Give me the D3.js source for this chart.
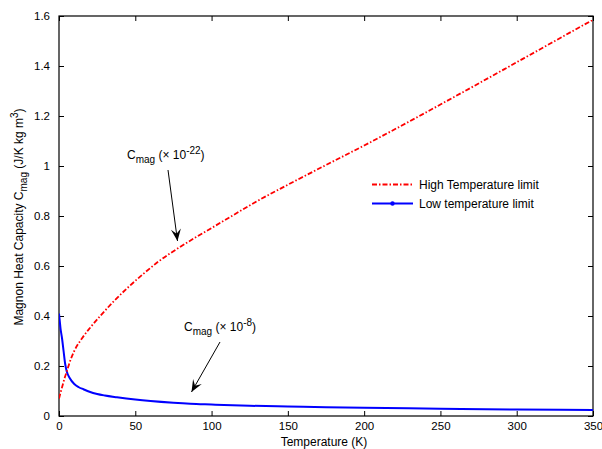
<!DOCTYPE html>
<html><head><meta charset="utf-8">
<script src="https://cdn.jsdelivr.net/npm/d3@7"></script>
<style>
body{margin:0;background:#fff;}
text{font-family:"Liberation Sans",Arial,sans-serif;font-size:12px;fill:#000;}
</style></head>
<body><svg id="c" width="602" height="449"></svg>
<script>
// High temperature limit (red, dash-dot)
const highT = [0,1,2,4,5,7,10,15,20,27,35,45,55,65,78,90,100,113,130,150,175,200,225,250,275,300,325,350];
const highV = [0.07,0.093,0.115,0.158,0.176,0.215,0.26,0.31,0.35,0.40,0.453,0.513,0.567,0.617,0.671,0.716,0.752,0.799,0.86,0.925,1.004,1.082,1.163,1.246,1.330,1.415,1.500,1.585];
// Low temperature limit (blue, solid)
const lowT = [0,0.5,1,2,3,4,5,7,10,13,16,20,25,30,38,50,60,75,86,100,125,150,175,200,250,300,350];
const lowV = [0.41,0.38,0.35,0.31,0.26,0.21,0.18,0.152,0.128,0.115,0.107,0.097,0.088,0.082,0.075,0.066,0.060,0.053,0.049,0.046,0.041,0.038,0.035,0.033,0.029,0.026,0.024];
const xTicks = [0,50,100,150,200,250,300,350];
const yTicks = [0,0.2,0.4,0.6,0.8,1,1.2,1.4,1.6];
const legendLabels = ["High Temperature limit","Low temperature limit"];

const svg = d3.select("#c");
const L=59, R=593, T=16, B=416;
const x = d3.scaleLinear().domain([0,350]).range([L,R]);
const y = d3.scaleLinear().domain([0,1.6]).range([B,T]);

const gx = svg.append("g").attr("transform",`translate(0,${B})`)
  .call(d3.axisBottom(x).tickValues(xTicks).tickSize(-5).tickPadding(9).tickFormat(d3.format("d")));
const gxt = svg.append("g").attr("transform",`translate(0,${T})`)
  .call(d3.axisTop(x).tickValues(xTicks).tickSize(-5).tickFormat(""));
const gy = svg.append("g").attr("transform",`translate(${L},0)`)
  .call(d3.axisLeft(y).tickValues(yTicks).tickSize(-5).tickPadding(9).tickFormat(d=>String(+d.toFixed(1))));
const gyr = svg.append("g").attr("transform",`translate(${R},0)`)
  .call(d3.axisRight(y).tickValues(yTicks).tickSize(-5).tickFormat(""));
[gx,gxt,gy,gyr].forEach(g=>{
  g.select(".domain").remove();
  g.selectAll("line").attr("stroke","#000").attr("stroke-width",1);
  g.selectAll("text").style("font-family","'Liberation Sans',Arial,sans-serif").style("font-size","11.5px").attr("fill","#000");
});
gx.selectAll("text").attr("dy","0.4em");
svg.append("rect").attr("x",L).attr("y",T).attr("width",R-L).attr("height",B-T)
  .attr("fill","none").attr("stroke","#000").attr("stroke-width",1.2);

svg.append("clipPath").attr("id","clp").append("rect")
  .attr("x",L).attr("y",T-2).attr("width",R-L+2).attr("height",B-T+2);

const line = d3.line().x(d=>x(d[0])).y(d=>y(d[1])).curve(d3.curveMonotoneX);
svg.append("path").datum(lowT.map((t,i)=>[t,lowV[i]]))
  .attr("d",line).attr("fill","none").attr("stroke","#0000ff").attr("stroke-width",2).attr("clip-path","url(#clp)");
svg.append("path").datum(highT.map((t,i)=>[t,highV[i]]))
  .attr("d",line).attr("fill","none").attr("stroke","#ff0000").attr("stroke-width",1.8)
  .attr("stroke-dasharray","5,2,1.5,2").attr("clip-path","url(#clp)");

// legend
const lg = svg.append("g");
lg.append("line").attr("x1",372).attr("x2",413).attr("y1",184.5).attr("y2",184.5)
  .attr("stroke","#ff0000").attr("stroke-width",1.8).attr("stroke-dasharray","5,2,1.5,2");
lg.append("line").attr("x1",372).attr("x2",413).attr("y1",203.5).attr("y2",203.5)
  .attr("stroke","#0000ff").attr("stroke-width",2);
lg.append("circle").attr("cx",392.5).attr("cy",203.5).attr("r",2.2).attr("fill","#0000ff");
lg.selectAll("text.lg").data(legendLabels).enter().append("text")
  .attr("x",419).attr("y",(d,i)=>189+i*19).text(d=>d);

// annotations
function cmag(xp, yp, exp){
  const t = svg.append("text").attr("x",xp).attr("y",yp);
  t.append("tspan").text("C");
  t.append("tspan").attr("dy",4).style("font-size","10px").text("mag");
  t.append("tspan").attr("dy",-4).text(" (\u00d7 10");
  t.append("tspan").attr("dy",-5).style("font-size","10px").text(exp);
  t.append("tspan").attr("dy",5).text(")");
}
cmag(127,159,"-22");
cmag(184,331,"-8");

function arrow(x1,y1,x2,y2){
  svg.append("line").attr("x1",x1).attr("y1",y1).attr("x2",x2).attr("y2",y2).attr("stroke","#000").attr("stroke-width",1);
  const a = Math.atan2(y2-y1,x2-x1), len=12, w=5;
  const bx = x2-len*Math.cos(a), by = y2-len*Math.sin(a);
  const nx = -Math.sin(a), ny = Math.cos(a);
  const mx = x2-len*0.6*Math.cos(a), my = y2-len*0.6*Math.sin(a);
  svg.append("path").attr("d",`M${x2},${y2}L${bx+nx*w},${by+ny*w}L${mx},${my}L${bx-nx*w},${by-ny*w}Z`).attr("fill","#000");
}
arrow(168,170,177.5,241);
arrow(220,342,191.5,392);

// axis labels
svg.append("text").attr("x",324).attr("y",446).attr("text-anchor","middle").text("Temperature (K)");
const yl = svg.append("text").attr("transform","translate(23,217) rotate(-90)").attr("text-anchor","middle");
yl.append("tspan").text("Magnon Heat Capacity C");
yl.append("tspan").attr("dy",4).style("font-size","10px").text("mag");
yl.append("tspan").attr("dy",-4).text(" (J/K kg m");
yl.append("tspan").attr("dy",-5).style("font-size","10px").text("3");
yl.append("tspan").attr("dy",5).text(")");
</script></body></html>
